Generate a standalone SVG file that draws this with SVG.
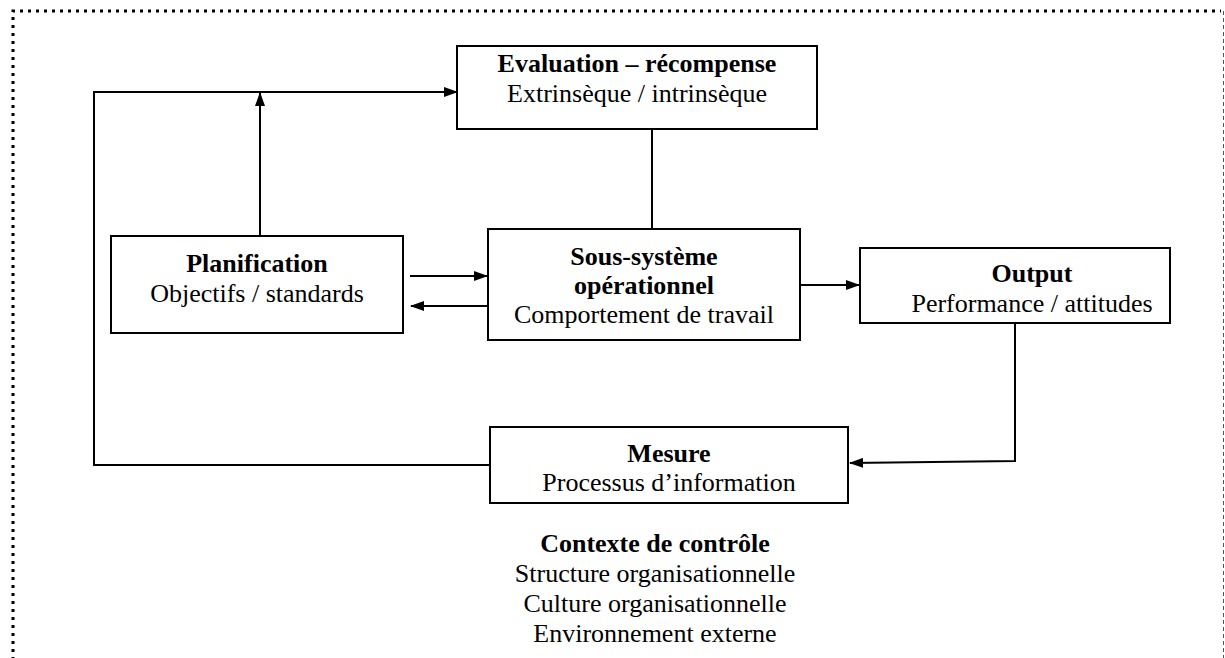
<svg xmlns="http://www.w3.org/2000/svg" width="1225" height="658" viewBox="0 0 1225 658">
<style>
.box{fill:#fff;stroke:#000;stroke-width:2}
.t{font-family:"Liberation Serif","Times New Roman",serif;font-size:26px;fill:#000;text-anchor:middle}
.b{font-weight:bold}
.c{fill:none;stroke:#000;stroke-width:2}
</style>
<defs>
<marker id="ah" markerUnits="userSpaceOnUse" markerWidth="14" markerHeight="10" refX="13" refY="5" orient="auto">
<path d="M0,0 L14,5 L0,10 Z" fill="#000"/>
</marker>
</defs>
<rect width="1225" height="658" fill="#fff"/>
<g id="border">
<path d="M13,700 V11 H1221" fill="none" stroke="#000" stroke-width="3" stroke-dasharray="3 5"/>
<path d="M1223.5,11 V700" fill="none" stroke="#555" stroke-width="1" stroke-dasharray="4 3"/>
</g>
<g id="connectors">
<path class="c" d="M490,465 H94 V92 H457" marker-end="url(#ah)"/>
<path class="c" d="M260,236 V93" marker-end="url(#ah)"/>
<path class="c" d="M652,129 V229"/>
<path class="c" d="M410,276 H487" marker-end="url(#ah)"/>
<path class="c" d="M488,306 H411" marker-end="url(#ah)"/>
<path class="c" d="M800,285 H859" marker-end="url(#ah)"/>
<path class="c" d="M1015,323 V461 L850,463" marker-end="url(#ah)"/>
</g>
<g id="evaluation">
<rect class="box" x="457" y="46" width="360" height="83"/>
<text class="t b" x="637" y="72">Evaluation – récompense</text>
<text class="t" x="637" y="102">Extrinsèque / intrinsèque</text>
</g>
<g id="planification">
<rect class="box" x="111" y="236" width="292" height="97"/>
<text class="t b" x="257" y="272">Planification</text>
<text class="t" x="257" y="302">Objectifs / standards</text>
</g>
<g id="sous-systeme">
<rect class="box" x="488" y="229" width="312" height="111"/>
<text class="t b" x="644" y="265">Sous-système</text>
<text class="t b" x="644" y="294">opérationnel</text>
<text class="t" x="644" y="323">Comportement de travail</text>
</g>
<g id="output">
<rect class="box" x="860" y="248" width="310" height="75"/>
<text class="t b" x="1032" y="282">Output</text>
<text class="t" x="1032" y="312">Performance / attitudes</text>
</g>
<g id="mesure">
<rect class="box" x="490" y="427" width="358" height="76"/>
<text class="t b" x="669" y="462">Mesure</text>
<text class="t" x="669" y="491">Processus d’information</text>
</g>
<g id="contexte">
<text class="t b" x="655" y="552">Contexte de contrôle</text>
<text class="t" x="655" y="582">Structure organisationnelle</text>
<text class="t" x="655" y="612">Culture organisationnelle</text>
<text class="t" x="655" y="642">Environnement externe</text>
</g>
</svg>
